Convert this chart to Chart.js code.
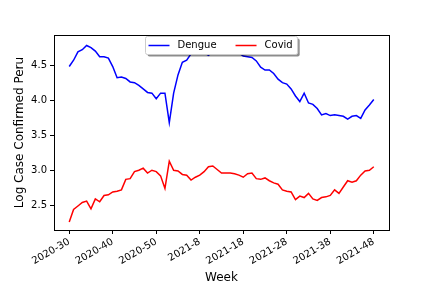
<!DOCTYPE html>
<html>
<head>
    <title>Dengue vs Covid Peru</title>
    <script src="https://cdn.jsdelivr.net/npm/chart.js@4.4.0/dist/chart.umd.min.js"></script>
    <style>
        body { margin: 0; background: #fff; }
    </style>
</head>
<body>
    <canvas id="chart" width="432" height="288"></canvas>

    <script>
        // weekly labels (year-week)
        const weeks = [
            '2020-30','2020-31','2020-32','2020-33','2020-34','2020-35','2020-36','2020-37','2020-38','2020-39',
            '2020-40','2020-41','2020-42','2020-43','2020-44','2020-45','2020-46','2020-47','2020-48','2020-49',
            '2020-50','2020-51','2020-52','2021-1','2021-2','2021-3','2021-4','2021-5','2021-6','2021-7',
            '2021-8','2021-9','2021-10','2021-11','2021-12','2021-13','2021-14','2021-15','2021-16','2021-17',
            '2021-18','2021-19','2021-20','2021-21','2021-22','2021-23','2021-24','2021-25','2021-26','2021-27',
            '2021-28','2021-29','2021-30','2021-31','2021-32','2021-33','2021-34','2021-35','2021-36','2021-37',
            '2021-38','2021-39','2021-40','2021-41','2021-42','2021-43','2021-44','2021-45','2021-46','2021-47',
            '2021-48'
        ];

        const dengue = [
            4.48, 4.57, 4.69, 4.72, 4.78, 4.75, 4.70, 4.62, 4.62, 4.60,
            4.48, 4.32, 4.33, 4.31, 4.26, 4.25, 4.21, 4.16, 4.11, 4.10,
            4.02, 4.10, 4.10, 3.68, 4.10, 4.36, 4.54, 4.57, 4.66, 4.69,
            4.70, 4.68, 4.64, 4.69, 4.71, 4.72, 4.71, 4.70, 4.69, 4.67,
            4.63, 4.62, 4.61, 4.56, 4.47, 4.43, 4.43, 4.38, 4.30, 4.25,
            4.23, 4.16, 4.06, 3.98, 4.10, 3.96, 3.94, 3.88, 3.79, 3.81,
            3.78, 3.79, 3.78, 3.77, 3.73, 3.77, 3.78, 3.74, 3.86, 3.93,
            4.01
        ];

        const covid = [
            2.26, 2.44, 2.49, 2.54, 2.56, 2.45, 2.59, 2.55, 2.64, 2.65,
            2.69, 2.70, 2.72, 2.87, 2.88, 2.98, 3.00, 3.03, 2.96, 3.00,
            2.98, 2.92, 2.74, 3.13, 3.00, 2.99, 2.94, 2.93, 2.86, 2.90,
            2.93, 2.98, 3.05, 3.06, 3.01, 2.96, 2.96, 2.96, 2.95, 2.93,
            2.90, 2.95, 2.96, 2.88, 2.87, 2.89, 2.85, 2.82, 2.80, 2.72,
            2.70, 2.69, 2.58, 2.63, 2.61, 2.67, 2.59, 2.57, 2.61, 2.62,
            2.64, 2.72, 2.67, 2.76, 2.85, 2.83, 2.85, 2.93, 2.99, 3.00,
            3.05
        ];

        const xTicks = [0, 10, 20, 30, 40, 50, 60, 70];
        const yTicks = [2.5, 3.0, 3.5, 4.0, 4.5];

        const FONT = 'DejaVu Sans';

        // matplotlib style: full box + legend inside the axes
        const boxAndLegend = {
            id: 'boxAndLegend',
            afterDatasetsDraw(chart) {
                const ctx = chart.ctx;
                const a = chart.chartArea;
                ctx.save();
                ctx.strokeStyle = '#000';
                ctx.lineWidth = 1;
                ctx.strokeRect(Math.round(a.left) + 0.5, Math.round(a.top) + 0.5,
                    Math.round(a.right - a.left), Math.round(a.bottom - a.top));

                // legend
                ctx.font = '10px "' + FONT + '"';
                const items = chart.data.datasets.map(d => ({ label: d.label, color: d.borderColor }));
                const handle = 21, gapText = 8, colGap = 19, padL = 3, padR = 5;
                const widths = items.map(it => handle + gapText + ctx.measureText(it.label).width);
                const w = widths.reduce((s, v) => s + v, 0) + colGap * (items.length - 1) + padL + padR;
                const h = 18;
                const cx = (a.left + a.right) / 2;
                const x0 = Math.round(cx - w / 2) + 0.5;
                const y0 = Math.round(a.top + 1) + 0.5;

                const rr = (x, y, ww, hh, r) => {
                    ctx.beginPath();
                    ctx.moveTo(x + r, y);
                    ctx.lineTo(x + ww - r, y);
                    ctx.quadraticCurveTo(x + ww, y, x + ww, y + r);
                    ctx.lineTo(x + ww, y + hh - r);
                    ctx.quadraticCurveTo(x + ww, y + hh, x + ww - r, y + hh);
                    ctx.lineTo(x + r, y + hh);
                    ctx.quadraticCurveTo(x, y + hh, x, y + hh - r);
                    ctx.lineTo(x, y + r);
                    ctx.quadraticCurveTo(x, y, x + r, y);
                    ctx.closePath();
                };
                rr(x0 + 2, y0 + 2, w, h, 2);
                ctx.fillStyle = 'rgba(0,0,0,0.45)';
                ctx.fill();
                rr(x0, y0, w, h, 2);
                ctx.fillStyle = '#fff';
                ctx.fill();
                ctx.strokeStyle = '#cccccc';
                ctx.stroke();

                let x = x0 + padL;
                const ly = y0 + h / 2;
                items.forEach((it, i) => {
                    ctx.strokeStyle = it.color;
                    ctx.lineWidth = 1.5;
                    ctx.beginPath();
                    ctx.moveTo(x, ly);
                    ctx.lineTo(x + handle, ly);
                    ctx.stroke();
                    ctx.fillStyle = '#000';
                    ctx.textBaseline = 'middle';
                    ctx.textAlign = 'left';
                    ctx.fillText(it.label, x + handle + gapText, ly);
                    x += widths[i] + colGap;
                });
                ctx.restore();
            }
        };

        const ctx = document.getElementById('chart').getContext('2d');
        new Chart(ctx, {
            type: 'line',
            data: {
                datasets: [
                    {
                        label: 'Dengue',
                        data: dengue.map((v, i) => ({ x: i, y: v })),
                        borderColor: '#0000ff',
                        borderWidth: 1.5,
                        pointRadius: 0,
                        fill: false
                    },
                    {
                        label: 'Covid',
                        data: covid.map((v, i) => ({ x: i, y: v })),
                        borderColor: '#ff0000',
                        borderWidth: 1.5,
                        pointRadius: 0,
                        fill: false
                    }
                ]
            },
            options: {
                responsive: false,
                animation: false,
                layout: { padding: { left: 0, right: 43, top: 35, bottom: 0 } },
                plugins: {
                    legend: { display: false },
                    tooltip: { enabled: false }
                },
                scales: {
                    x: {
                        type: 'linear',
                        min: -3.5,
                        max: 73.5,
                        afterBuildTicks: s => { s.ticks = xTicks.map(v => ({ value: v })); },
                        afterFit: s => { s.height = 58; },
                        ticks: {
                            autoSkip: false,
                            maxRotation: 30,
                            minRotation: 30,
                            padding: 2,
                            color: '#000',
                            font: { family: FONT, size: 10 },
                            callback: v => weeks[v]
                        },
                        grid: { drawOnChartArea: false, tickLength: 4, color: '#000' },
                        border: { display: true, color: '#000' },
                        title: {
                            display: true,
                            text: 'Week',
                            color: '#000',
                            font: { family: FONT, size: 12 },
                            padding: { top: 0, bottom: 3 }
                        }
                    },
                    y: {
                        min: 2.147,
                        max: 4.93,
                        afterBuildTicks: s => { s.ticks = yTicks.map(v => ({ value: v })); },
                        afterFit: s => { s.width = 54; },
                        ticks: {
                            padding: 3,
                            color: '#000',
                            font: { family: FONT, size: 10 },
                            callback: v => v.toFixed(1)
                        },
                        grid: { drawOnChartArea: false, tickLength: 4, color: '#000' },
                        border: { display: true, color: '#000' },
                        title: {
                            display: true,
                            text: 'Log Case Confirmed Peru',
                            color: '#000',
                            font: { family: FONT, size: 12 },
                            padding: { top: 13, bottom: 0 }
                        }
                    }
                }
            },
            plugins: [boxAndLegend]
        });
    </script>
</body>
</html>
